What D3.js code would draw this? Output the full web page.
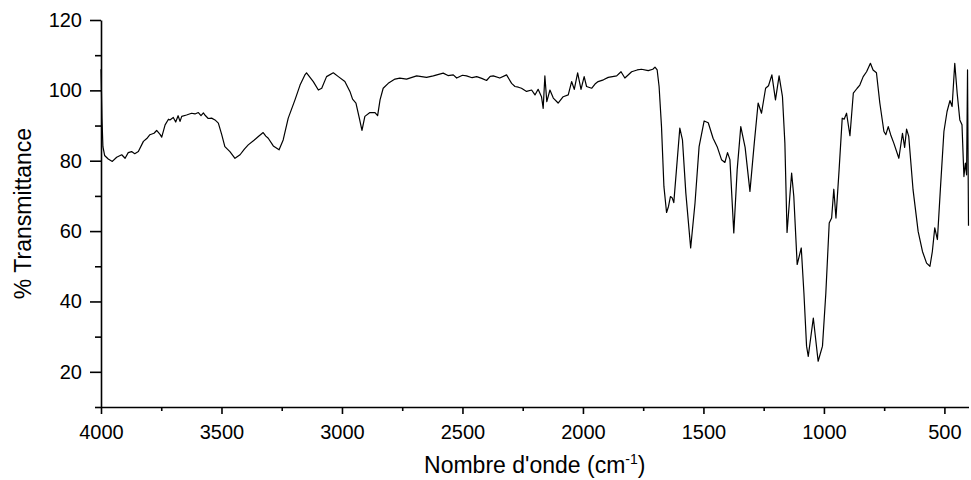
<!DOCTYPE html>
<html>
<head>
<meta charset="utf-8">
<script src="https://cdn.jsdelivr.net/npm/d3@7"></script>
<style>
  body { margin: 0; background: #fff; }
  svg text { font-family: "Liberation Sans", Arial, sans-serif; fill: #000; }
</style>
</head>
<body>
<svg id="chart"></svg>
<script>
// wavenumber (cm-1) and % transmittance
const wavenumbers = [4000, 3996, 3992, 3985, 3970, 3953, 3935, 3914, 3900, 3887, 3873, 3860, 3845, 3824, 3810, 3797, 3780, 3769, 3755, 3748,
  3734, 3720, 3714, 3700, 3690, 3680, 3672, 3665, 3645, 3624, 3610, 3596, 3585, 3575, 3569, 3555, 3541, 3527, 3513, 3499,
  3486, 3465, 3444, 3423, 3405, 3389, 3365, 3347, 3327, 3316, 3306, 3285, 3261, 3244, 3223, 3195, 3174, 3154, 3147, 3119,
  3098, 3084, 3064, 3036, 3015, 2988, 2967, 2956, 2942, 2928, 2917, 2905, 2884, 2863, 2852, 2842, 2829, 2808, 2780, 2760,
  2732, 2690, 2649, 2621, 2580, 2560, 2538, 2524, 2500, 2483, 2460, 2441, 2420, 2400, 2385, 2372, 2345, 2317, 2296, 2282,
  2268, 2255, 2234, 2213, 2199, 2186, 2172, 2165, 2158, 2150, 2137, 2123, 2103, 2082, 2061, 2047, 2036, 2022, 2008, 1995,
  1985, 1964, 1950, 1937, 1915, 1895, 1860, 1842, 1826, 1798, 1775, 1757, 1729, 1710, 1701, 1692, 1684, 1674, 1664, 1653,
  1645, 1637, 1630, 1623, 1612, 1598, 1587, 1573, 1553, 1535, 1518, 1497, 1480, 1460, 1443, 1425, 1411, 1400, 1390, 1374,
  1360, 1345, 1327, 1307, 1289, 1273, 1259, 1242, 1230, 1216, 1201, 1186, 1172, 1162, 1153, 1134, 1125, 1111, 1094, 1083,
  1072, 1065, 1044, 1024, 1006, 992, 978, 968, 959, 950, 937, 924, 916, 906, 892, 878, 862, 851, 837, 823,
  807, 796, 782, 768, 751, 743, 733, 723, 710, 689, 674, 665, 657, 648, 630, 609, 591, 574, 560, 550,
  540, 529, 516, 502, 489, 477, 468, 457, 447, 436, 427, 419, 413, 408, 404, 400];

const transmittance = [106, 92, 84, 81.5, 80.5, 79.8, 81, 81.7, 80.7, 82.3, 82.6, 82.0, 82.6, 85.5, 86.3, 87.4, 87.8, 88.6, 87.5, 86.7,
  90.2, 91.8, 91.6, 92.3, 91.0, 92.8, 91.2, 92.6, 93.0, 93.5, 93.3, 93.7, 92.8, 93.6, 93.0, 92.0, 92.1, 91.6, 90.7, 87.4,
  84.0, 82.6, 80.7, 81.7, 83.3, 84.5, 85.8, 86.9, 88.0, 87.0, 86.4, 84.2, 83.1, 85.9, 92.1, 97.3, 101.5, 104.4, 105.0, 102.5,
  100.1, 100.6, 103.9, 105.0, 103.9, 102.5, 99.7, 97.5, 96.4, 92.1, 88.6, 92.6, 93.7, 93.7, 92.8, 97.3, 100.6, 102.0, 103.2, 103.5,
  103.2, 104.1, 103.7, 104.1, 104.9, 104.2, 104.4, 103.5, 104.3, 104.1, 103.6, 103.9, 103.4, 102.8, 104.0, 104.1, 103.5, 104.4, 102.0, 101.1,
  100.9, 100.6, 99.7, 100.1, 98.7, 100.3, 98.2, 94.9, 104.1, 96.8, 100.1, 97.8, 96.4, 98.2, 98.7, 102.5, 100.3, 105.0, 100.3, 103.9,
  101.1, 100.6, 101.8, 102.5, 103.0, 103.7, 104.1, 105.3, 103.5, 105.3, 105.8, 106.0, 105.6, 106.0, 106.6, 105.8, 101.1, 89.7, 72.7, 65.3,
  67.0, 69.8, 69.5, 68.1, 77.4, 89.3, 85.9, 70.8, 55.2, 67.9, 84.0, 91.3, 90.8, 86.4, 84.0, 80.3, 79.5, 82.3, 80.3, 59.5,
  77.4, 89.7, 83.8, 71.3, 85.0, 96.4, 93.5, 100.6, 101.3, 104.4, 97.3, 104.1, 98.2, 85.0, 59.6, 76.5, 69.9, 50.5, 55.2, 42.4,
  27.3, 24.4, 35.3, 23.0, 27.3, 42.4, 62.3, 63.7, 71.9, 63.7, 77.4, 92.1, 91.8, 93.5, 87.1, 99.2, 100.6, 101.5, 103.9, 105.3,
  107.7, 105.8, 105.0, 96.4, 88.3, 87.4, 89.7, 87.4, 85.0, 80.7, 87.8, 83.8, 89.0, 86.9, 71.7, 59.9, 54.2, 50.9, 50.0, 54.2,
  60.9, 57.6, 72.7, 88.3, 94.0, 97.1, 95.4, 107.7, 99.2, 91.6, 90.2, 75.5, 79.3, 76.0, 105.8, 61.5];

const xTicks = [4000, 3500, 3000, 2500, 2000, 1500, 1000, 500];
const xMinorTicks = [3750, 3250, 2750, 2250, 1750, 1250, 750];
const yTicks = [20, 40, 60, 80, 100, 120];
const yMinorTicks = [10, 30, 50, 70, 90, 110];

const w = 971;
const h = 480;
const mLeft = 101, mRight = 968.5, mTop = 20, mBottom = 407;

const svg = d3.select("#chart").attr("width", w).attr("height", h);

const x = d3.scaleLinear().domain([4000, 400]).range([mLeft, mRight]);
const y = d3.scaleLinear().domain([10, 120]).range([mBottom, mTop]);

const data = wavenumbers.map((wn, i) => [wn, transmittance[i]]);

// spectrum
svg.append("path")
  .datum(data)
  .attr("fill", "none")
  .attr("stroke", "#000")
  .attr("stroke-width", 1.2)
  .attr("stroke-linejoin", "round")
  .attr("d", d3.line().x(d => x(d[0])).y(d => y(d[1])));

// axes
svg.append("g").attr("transform", `translate(0, ${mBottom})`)
  .call(d3.axisBottom(x).tickValues(xTicks).tickSize(7).tickPadding(11).tickSizeOuter(0).tickFormat(d3.format("d")));
svg.append("g").attr("transform", `translate(0, ${mBottom})`)
  .call(d3.axisBottom(x).tickValues(xMinorTicks).tickSize(4).tickFormat("").tickSizeOuter(0))
  .select(".domain").remove();

svg.append("g").attr("transform", `translate(${mLeft}, 0)`)
  .call(d3.axisLeft(y).tickValues(yTicks).tickSize(11).tickPadding(8).tickSizeOuter(0).tickFormat(d3.format("d")));
svg.append("g").attr("transform", `translate(${mLeft}, 0)`)
  .call(d3.axisLeft(y).tickValues(yMinorTicks).tickSize(6).tickFormat("").tickSizeOuter(0))
  .select(".domain").remove();

svg.selectAll(".domain, .tick line").attr("stroke", "#000").attr("stroke-width", 1.6);
svg.selectAll(".tick text")
  .attr("font-family", "'Liberation Sans', Arial, sans-serif")
  .attr("font-size", 20)
  .attr("fill", "#000");

// axis titles
svg.append("text")
  .attr("transform", `translate(31, ${(mTop + mBottom) / 2}) rotate(-90)`)
  .attr("text-anchor", "middle")
  .attr("font-size", 23)
  .text("% Transmittance");

const xt = svg.append("text")
  .attr("x", (mLeft + mRight) / 2)
  .attr("y", 473)
  .attr("text-anchor", "middle")
  .attr("font-size", 23);
xt.append("tspan").text("Nombre d'onde (cm");
xt.append("tspan").attr("font-size", 14).attr("dy", -9).text("-1");
xt.append("tspan").attr("dy", 9).text(")");
</script>
</body>
</html>
